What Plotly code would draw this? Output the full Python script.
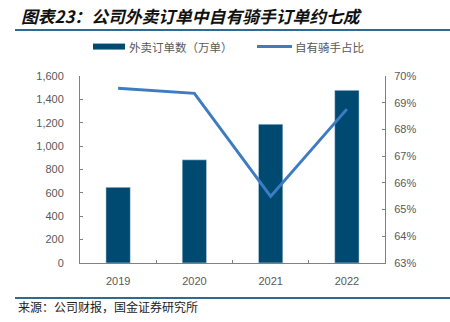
import plotly.graph_objects as go

years = ["2019", "2020", "2021", "2022"]
orders = [648, 883, 1188, 1478]          # 外卖订单数（万单）
rider_share = [0.6954, 0.6935, 0.6549, 0.6876]  # 自有骑手占比

W, H = 450, 322
L, R, T, B = 80, 385, 76, 263.5

def px(xp):
    return (xp - L) / (R - L)

def py(yp):
    return (B - yp) / (B - T)

gray = "#595959"
axis_col = "#808080"
bar_col = "#004a72"
line_col = "#3d7cc3"
rule_col = "#2f6b90"
cjk = "Noto Sans CJK SC"

fig = go.Figure()
fig.add_trace(go.Bar(x=years, y=orders, marker_color=bar_col, width=0.32,
                     name="外卖订单数（万单）", showlegend=False))
fig.add_trace(go.Scatter(x=years, y=rider_share, mode="lines", yaxis="y2",
                         line=dict(color=line_col, width=3),
                         name="自有骑手占比", showlegend=False))

fig.update_layout(
    width=W, height=H,
    margin=dict(l=L, r=W - R, t=T, b=H - B, pad=0),
    plot_bgcolor="white", paper_bgcolor="white",
    font=dict(family="Liberation Sans, Arial", size=11, color=gray),
    xaxis=dict(showline=True, linecolor=axis_col, linewidth=1, ticks="inside",
               tickson="boundaries", ticklen=3, tickcolor=axis_col,
               ticklabelstandoff=8, tickfont=dict(size=11, color=gray),
               showgrid=False, zeroline=False),
    yaxis=dict(range=[0, 1600], dtick=200, tickformat=",", showline=True,
               linecolor=axis_col, ticks="inside", ticklen=3, tickcolor=axis_col,
               ticklabelstandoff=13, showgrid=False, zeroline=False,
               tickfont=dict(size=11, color=gray)),
    yaxis2=dict(range=[0.63, 0.70], dtick=0.01, tickformat=".0%", overlaying="y",
                side="right", showline=True, linecolor=axis_col, ticks="inside",
                ticklen=3, tickcolor=axis_col, ticklabelstandoff=6,
                showgrid=False, zeroline=False, tickfont=dict(size=11, color=gray)),
    bargap=0.68,
)

shapes = [
    dict(type="line", xref="paper", yref="paper", x0=px(15), x1=px(450),
         y0=py(30), y1=py(30), line=dict(color=rule_col, width=2)),
    dict(type="line", xref="paper", yref="paper", x0=px(15), x1=px(450),
         y0=py(298.5), y1=py(298.5), line=dict(color=rule_col, width=2)),
    dict(type="rect", xref="paper", yref="paper", x0=px(93), x1=px(125),
         y0=py(49.5), y1=py(43.5), fillcolor=bar_col, line=dict(width=0)),
    dict(type="line", xref="paper", yref="paper", x0=px(257), x1=px(292),
         y0=py(46.5), y1=py(46.5), line=dict(color=line_col, width=3)),
]
fig.update_layout(shapes=shapes)

ann = [
    dict(text="图表23：公司外卖订单中自有骑手订单约七成", x=px(19), y=py(16),
         font=dict(family=cjk, size=16.8, color="#111111", weight="bold", style="italic")),
    dict(text="外卖订单数（万单）", x=px(127), y=py(46.5),
         font=dict(family=cjk, size=11.5, color=gray)),
    dict(text="自有骑手占比", x=px(293), y=py(46.5),
         font=dict(family=cjk, size=11.5, color=gray)),
    dict(text="来源：公司财报，国金证券研究所", x=px(16), y=py(307),
         font=dict(family=cjk, size=12, color="#222222")),
]
for a in ann:
    a.update(xref="paper", yref="paper", xanchor="left", yanchor="middle",
             showarrow=False)
fig.update_layout(annotations=ann)

fig.write_html("out.html")
